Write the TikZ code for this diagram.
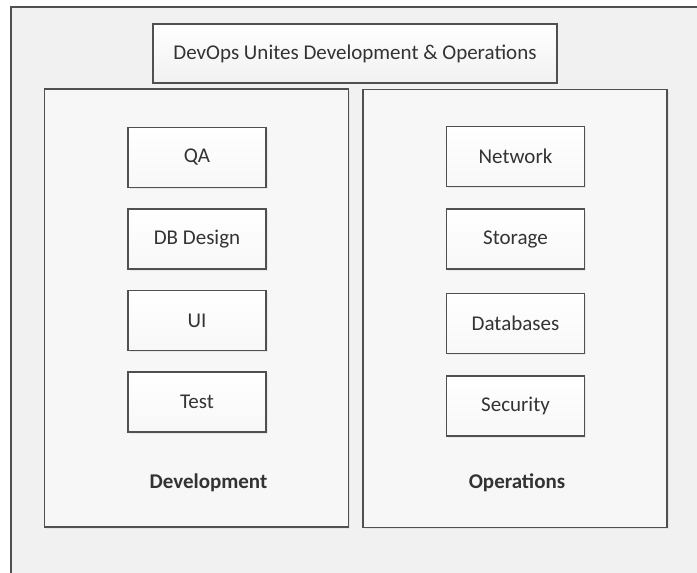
\documentclass[tikz,border=0pt]{standalone}
\usepackage{fontspec}
\setmainfont{Carlito}
\usetikzlibrary{positioning, shadows}

\definecolor{edgegray}{HTML}{505050}
\definecolor{textgray}{HTML}{333333}
\definecolor{paper}{HTML}{F1F1F1}

\begin{document}
\begin{tikzpicture}[
    x=1pt, y=-1pt,
    node distance=20pt,
    every node/.style={font=\fontsize{21}{25}\selectfont, text=textgray},
    titlebox/.style={draw=edgegray, line width=1.6pt, top color=white, bottom color=paper,
        minimum width=404pt, minimum height=59pt},
    panel/.style={draw=edgegray, line width=1.6pt, fill=paper!60!white,
        minimum width=304pt, minimum height=438pt,
        drop shadow={opacity=0.12, shadow xshift=1.5pt, shadow yshift=-1.5pt}},
    item/.style={draw=edgegray, line width=1.5pt, top color=white, bottom color=paper!80!gray!20,
        minimum width=138pt, minimum height=60pt,
        drop shadow={opacity=0.12, shadow xshift=1.5pt, shadow yshift=-1.5pt}},
    label/.style={font=\fontsize{21}{25}\selectfont\bfseries}
]
    \useasboundingbox (0,0) rectangle (697,573);
    \fill[white] (0,0) rectangle (697,573);

    % Outer frame (runs off the right and bottom)
    \fill[paper] (11,7) rectangle (700,580);
    \draw[edgegray, line width=1.6pt] (11,580) |- (700,7);

    % Title
    \node[titlebox] (title) at (355,53.5) {DevOps Unites Development \& Operations};

    % Two halves
    \node[panel] (dev) at (196.5,308) {};
    \node[panel] (ops) at (515,308.5) {};

    % Development items
    \node[item] (qa) at (197,157.5) {QA};
    \node[item] (dbdesign) [below=of qa] {DB Design};
    \node[item] (ui) [below=of dbdesign] {UI};
    \node[item] (test) [below=of ui] {Test};
    \node[label] (devlabel) at (208.5,483) {Development};

    % Operations items
    \node[item] (network) at (515.5,156.5) {Network};
    \node[item] (storage) [below=21pt of network] {Storage};
    \node[item] (databases) [below=23pt of storage] {Databases};
    \node[item] (security) [below=21pt of databases] {Security};
    \node[label] (opslabel) at (517,483) {Operations};
\end{tikzpicture}
\end{document}
